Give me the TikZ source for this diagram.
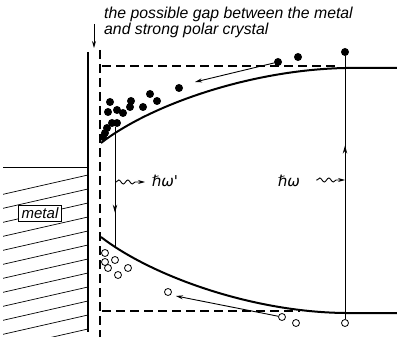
\documentclass[tikz,border=0pt]{standalone}
\usepackage{fontspec}
\newfontfamily\labfont{Liberation Sans}
\newfontfamily\symfont{DejaVu Sans}
\usetikzlibrary{arrows.meta,decorations.pathmorphing,decorations.markings}
\begin{document}
\begin{tikzpicture}[x=1pt,y=-1pt,
  electron/.style={circle,fill=black,inner sep=0pt,minimum size=8pt},
  hole/.style={circle,draw=black,fill=white,line width=0.8pt,inner sep=0pt,minimum size=7pt},
  band/.style={line width=2pt},
  gapline/.style={line width=1.3pt,dash pattern=on 9pt off 5pt},
  thinline/.style={line width=0.9pt},
  tip/.style={-{Stealth[length=7pt,width=4pt]}},
  midtip/.style={postaction={decorate},decoration={markings,mark=at position #1 with {\arrow{Stealth[length=8pt,width=4.5pt]}}}},
  wave/.style={decorate,decoration={snake,amplitude=2pt,segment length=9pt,pre length=1pt,post length=7pt}},
  lab/.style={font=\labfont\itshape\fontsize{15.8}{16}\selectfont},
  energy/.style={font=\symfont\itshape\fontsize{15}{15}\selectfont, inner sep=0pt}
]
\useasboundingbox (0,0) rectangle (397,337);

% metal hatching
\begin{scope}
\clip (3,167) rectangle (88,337);
\foreach \k in {0,...,13} { \draw[line width=0.7pt] (0,{175+14*\k+20}) -- (88,{175+14*\k}); }
\end{scope}
\draw[line width=0.9pt] (3,167) -- (88,167);
\draw[line width=1.3pt] (88,52) -- (88,332);
\node[draw, fill=white, line width=0.8pt, inner xsep=3pt, inner ysep=2.5pt, font=\labfont\itshape\fontsize{15}{15}\selectfont] (metal) at (40,213) {metal};

% gap and band edges
\draw[gapline] (100,50) -- (100,337);
\draw[gapline] (102,66) -- (335,66);
\draw[gapline] (102,311) -- (300,311);
\draw[band] (101,143) .. controls (150,105) and (250,70) .. (345,68) -- (397,68);
\draw[band] (101,237) .. controls (150,275) and (250,312) .. (345,313) -- (397,313);

% text
\node[lab, anchor=base west, inner sep=0pt] (t1) at (104,19) {the possible gap between the metal};
\node[lab, anchor=base west, inner sep=0pt] (t2) at (104,35) {and strong polar crystal};
\coordinate (ga) at (94,24);
\coordinate (gb) at (94,48);
\draw[thinline,tip] (ga) -- (gb);

% electrons
\foreach \p [count=\i] in {(345,52),(298,57),(278,62),(179,88),(150,94),(157,101),(143,107),(131,101),(130,107),(110,102),(108,112),(117,110),(123,113),(112,123),(117,123),(107,128),(105,133),(103,137)}
  \node[electron] (e\i) at \p {};

% holes
\foreach \p [count=\i] in {(105,253),(115,260),(105,262),(108,268),(128,268),(118,275),(168,292),(282,317),(296,323),(345,323)}
  \node[hole] (h\i) at \p {};

% relaxation arrows
\coordinate (ua) at (195,82);
\draw[thinline,tip] (e3) -- (ua);
\coordinate (la) at (176,296);
\draw[thinline,tip] (h8) -- (la);

% optical transition
\draw[thinline, midtip=0.66] (h10) -- (e1);
\coordinate (w1) at (316,180);
\coordinate (w2) at (345,180);
\draw[thinline, wave, tip] (w1) -- (w2);
\node[energy] (hw) at (289,181) {ℏω};

% recombination
\coordinate (lt) at (115,127);
\coordinate (lb) at (115,246);
\draw[thinline, midtip=0.72] (lt) -- (lb);
\coordinate (w3) at (115,182);
\coordinate (w4) at (145,182);
\draw[thinline, wave, tip] (w3) -- (w4);
\node[energy] (hwp) at (165,181) {ℏω'};
\end{tikzpicture}
\end{document}
